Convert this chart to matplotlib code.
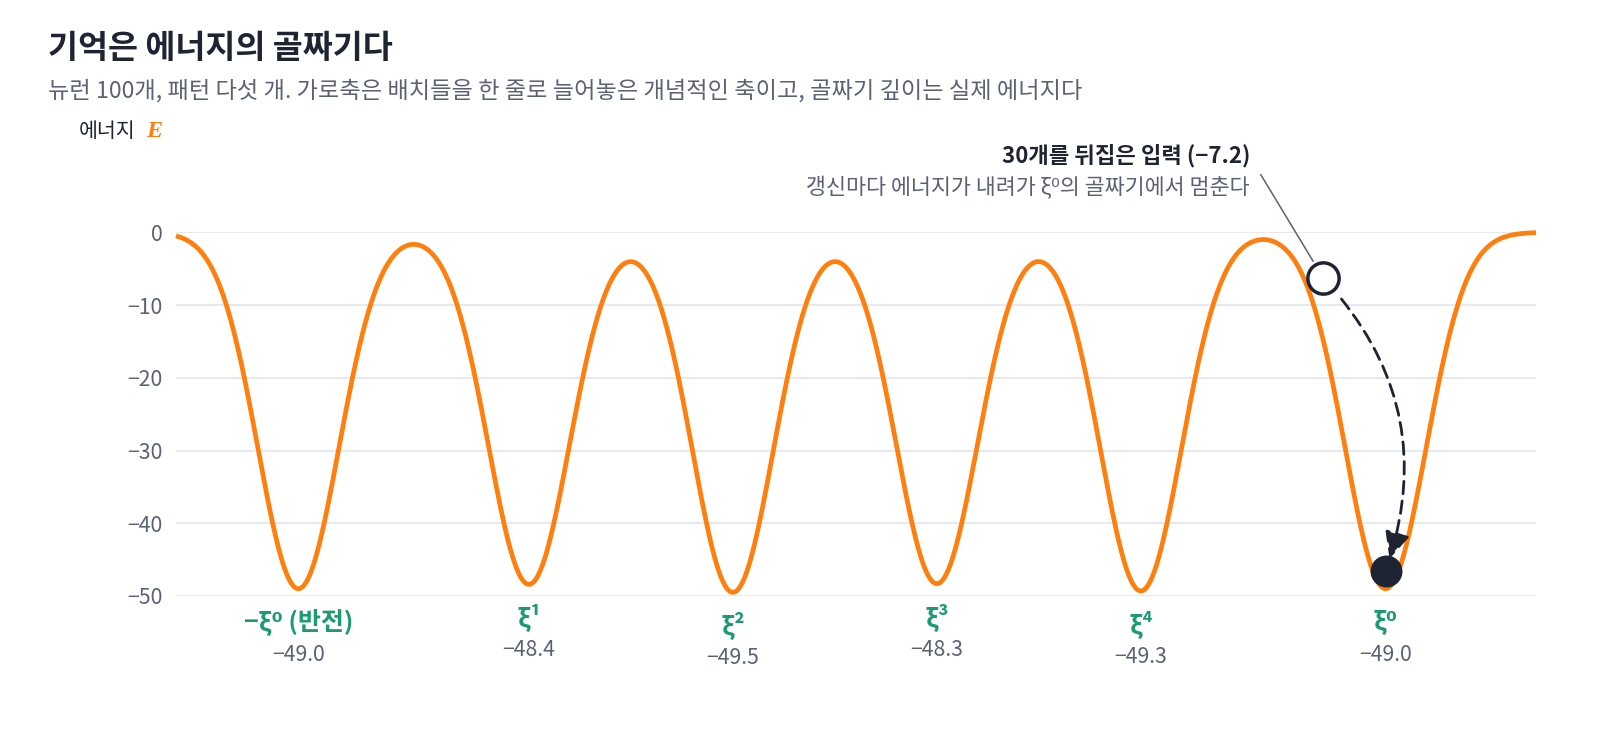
import numpy as np
import matplotlib
matplotlib.use("Agg")
import matplotlib.pyplot as plt

plt.rcParams['font.family'] = ['Noto Sans CJK KR', 'DejaVu Sans']
plt.rcParams['axes.unicode_minus'] = True

# ---------------- data ----------------
WELL_LABELS = ["−ξ⁰ (반전)", "ξ¹", "ξ²", "ξ³", "ξ⁴", "ξ⁰"]
WELL_POS = [0.60, 1.73, 2.73, 3.73, 4.73, 5.93]      # conceptual axis
WELL_DEPTH = [-49.0, -48.4, -49.5, -48.3, -49.3, -49.0]
WELL_WIDTH = 0.198
X_RANGE = [0.0, 6.667]
Y_TICKS = [0, -10, -20, -30, -40, -50]
INPUT_ENERGY = -7.2          # flipped-30 input
INPUT_WELL = 5               # index of ξ⁰ well

TITLE = "기억은 에너지의 골짜기다"
SUBTITLE = "뉴런 100개, 패턴 다섯 개. 가로축은 배치들을 한 줄로 늘어놓은 개념적인 축이고, 골짜기 깊이는 실제 에너지다"
ANN_BOLD = "30개를 뒤집은 입력 (−7.2)"
ANN_SUB = "갱신마다 에너지가 내려가 ξ⁰의 골짜기에서 멈춘다"

ORANGE = "#ff7f0e"
DARK = "#1f2433"
GRAY = "#5b6275"
GREEN = "#1b9a73"
GRID = "#e4e7ee"

W, H = 1600, 752
fig = plt.figure(figsize=(W / 100, H / 100), dpi=100)
fig.patch.set_facecolor("white")

def fx(px):
    return px / W

def fy(py):
    return 1 - py / H

ax = fig.add_axes([fx(176), fy(596), fx(1536) - fx(176), fy(232.3) - fy(596)])
ax.set_xlim(*X_RANGE)
ax.set_ylim(-50, 0)


def energy(x):
    e = np.zeros_like(x, dtype=float)
    for c, d in zip(WELL_POS, WELL_DEPTH):
        e += d * np.exp(-(x - c) ** 2 / (2 * WELL_WIDTH ** 2))
    return e


xs = np.linspace(X_RANGE[0], X_RANGE[1], 1500)
ax.plot(xs, energy(xs), color=ORANGE, lw=3.4, clip_on=False, zorder=3,
        solid_capstyle='butt')

ax.set_yticks(Y_TICKS)
ax.set_yticklabels([("−" + str(abs(t))) if t < 0 else str(t) for t in Y_TICKS])
ax.set_xticks([])
ax.tick_params(axis='y', length=0, pad=9.5, labelsize=15.3, labelcolor=GRAY)
ax.grid(axis='y', color=GRID, lw=1.3)
ax.set_axisbelow(True)
for s in ax.spines.values():
    s.set_visible(False)

# well labels
for lab, c, d in zip(WELL_LABELS, WELL_POS, WELL_DEPTH):
    ax.annotate(lab, xy=(c, d), xytext=(0, -23.8), textcoords='offset points',
                ha='center', va='center', color=GREEN, fontsize=18,
                fontweight='bold', annotation_clip=False)
    ax.annotate(f"{d:.1f}".replace("-", "−"), xy=(c, d), xytext=(0, -47.5),
                textcoords='offset points', ha='center', va='center',
                color=GRAY, fontsize=15.3, annotation_clip=False)

# ---- balls: compute positions on curve, offset along normal ----
fig.canvas.draw()
trans = ax.transData
OFFSET_PX = 18.0


def ball_center(x0):
    e0 = energy(np.array([x0]))[0]
    h = 1e-4
    p0 = trans.transform((x0, e0))
    p1 = trans.transform((x0 + h, energy(np.array([x0 + h]))[0]))
    t = p1 - p0
    t = t / np.hypot(*t)
    n = np.array([-t[1], t[0]])
    if n[1] < 0:
        n = -n
    pc = p0 + OFFSET_PX * n
    return trans.inverted().transform(pc)


# input position: on the left slope of the ξ⁰ well where E = INPUT_ENERGY
c0 = WELL_POS[INPUT_WELL]
seg = np.linspace(c0 - 0.6, c0, 4000)
eseg = energy(seg)
x_in = seg[np.argmin(np.abs(eseg - INPUT_ENERGY))]
start_c = ball_center(x_in)
end_c = ball_center(c0)

ax.plot([start_c[0]], [start_c[1]], 'o', ms=22.5, mfc='white', mec=DARK, mew=2.5,
        zorder=6, clip_on=False)
ax.plot([end_c[0]], [end_c[1]], 'o', ms=23, mfc=DARK, mec=DARK, mew=0,
        zorder=6, clip_on=False)

ax.annotate("", xy=end_c, xytext=start_c,
            arrowprops=dict(arrowstyle='-|>,head_length=0.9,head_width=0.42',
                            connectionstyle='arc3,rad=-0.3',
                            color=DARK, lw=2.0, linestyle=(0, (4.5, 2.6)),
                            shrinkA=20, shrinkB=9, mutation_scale=18),
            zorder=5, annotation_clip=False)

# leader line to the annotation
ax.annotate("", xy=start_c, xytext=(-45, 74.5), textcoords='offset points',
            arrowprops=dict(arrowstyle='-', color=GRAY, lw=1.1,
                            shrinkA=0, shrinkB=14),
            annotation_clip=False)

# ---------------- texts ----------------
fig.text(fx(48), fy(58), TITLE, fontsize=23.5, fontweight='bold', color=DARK,
         ha='left', va='baseline')
fig.text(fx(48), fy(98), SUBTITLE, fontsize=16.7, color=GRAY,
         ha='left', va='baseline')
fig.text(fx(79), fy(137), "에너지", fontsize=14.8, color=DARK,
         ha='left', va='baseline')
fig.text(fx(146), fy(137), "E", fontsize=17.5, color=ORANGE, fontweight='bold',
         fontstyle='italic', family=['Liberation Serif', 'DejaVu Serif'],
         ha='left', va='baseline')

fig.text(fx(1250), fy(162), ANN_BOLD, fontsize=16, fontweight='bold',
         color=DARK, ha='right', va='baseline')
fig.text(fx(1250), fy(194), ANN_SUB, fontsize=15.7, color=GRAY,
         ha='right', va='baseline')

fig.savefig("out.png", dpi=100, facecolor='white')
